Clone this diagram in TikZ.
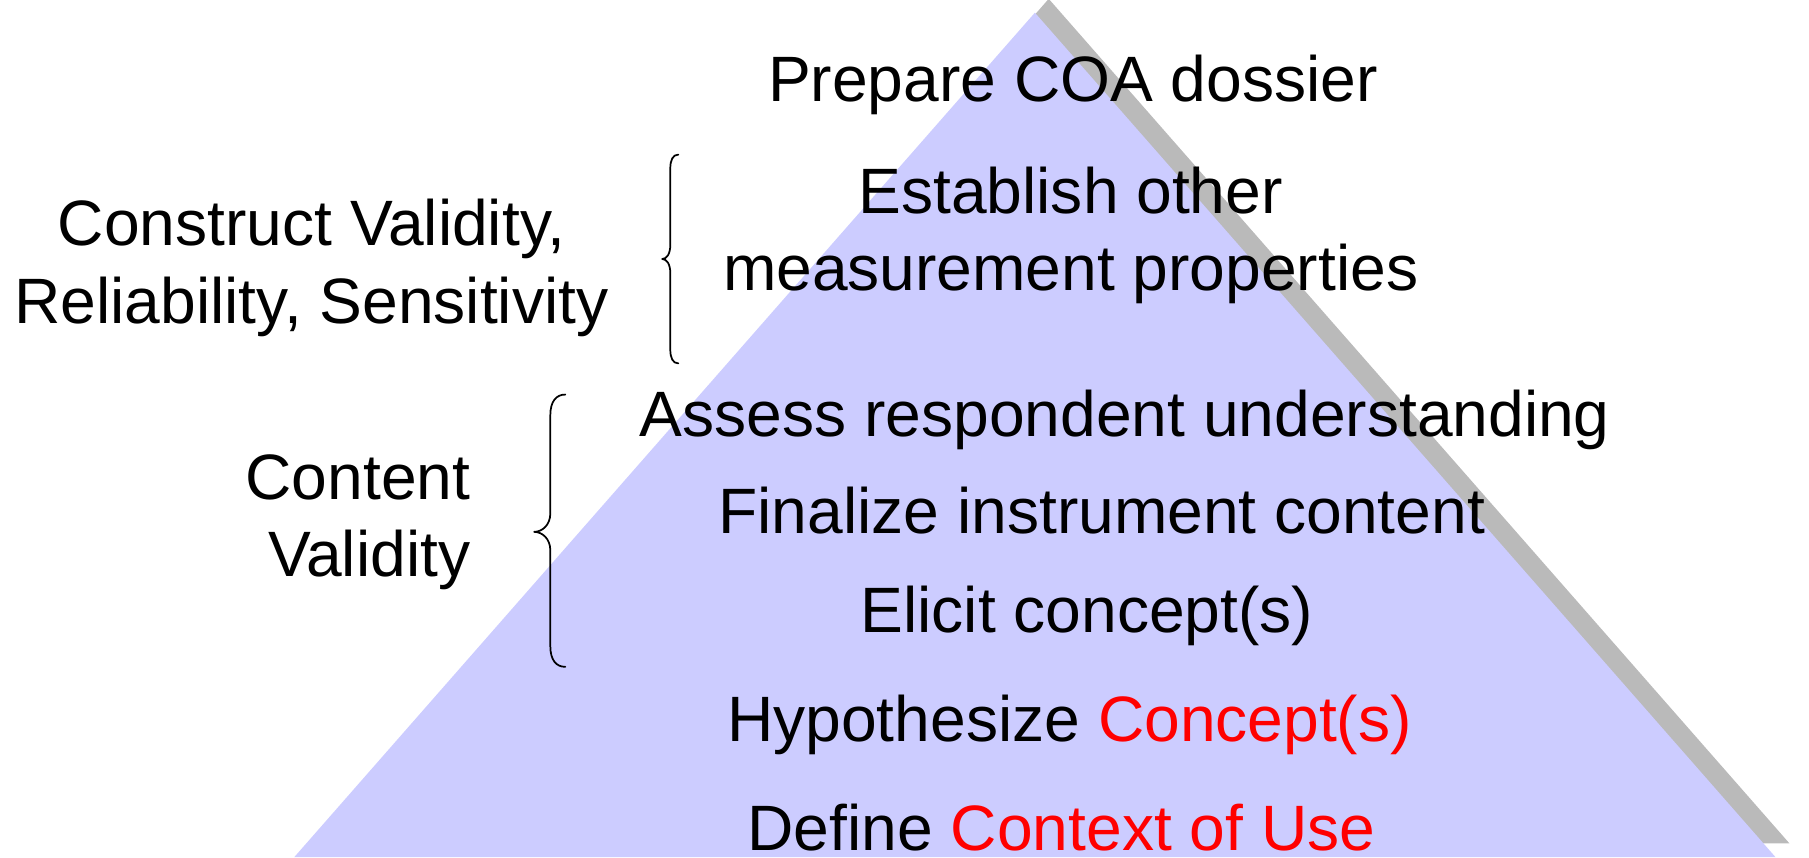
\documentclass[tikz,border=0pt]{standalone}
\usepackage{fontspec}
\setmainfont{Liberation Sans}
\definecolor{pyrblue}{RGB}{204,204,255}
\definecolor{shadowgray}{RGB}{186,186,186}
\definecolor{accentred}{RGB}{255,0,0}
\begin{document}
\begin{tikzpicture}[x=0.5pt,y=-0.5pt,
  lbl/.style={anchor=base, inner sep=0pt, font=\fontsize{27.8}{33}\selectfont, text=black},
  bracepath/.style={draw=black, line width=0.75pt, line cap=round, line join=round}]
\useasboundingbox (0,0) rectangle (1568,743);
% pyramid with shadow
\fill[shadowgray] (909,-1) -- (1551,731) -- (267,731) -- cycle;
\fill[pyrblue] (897,11) -- (1539,743) -- (255,743) -- cycle;
% texts inside pyramid
\node[lbl] (prep) at (930,88) {Prepare COA dossier};
\node[lbl] (est1) at (928,185) {Establish other};
\node[lbl] (est2) at (928,252) {measurement properties};
\node[lbl] (assess) at (975,378) {Assess respondent understanding};
\node[lbl] (final) at (955,462) {Finalize instrument content};
\node[lbl] (elicit) at (942,548) {Elicit concept(s)};
\node[lbl] (hyp) at (927,643) {Hypothesize \textcolor{accentred}{Concept(s)}};
\node[lbl] (def) at (920,737) {Define \textcolor{accentred}{Context of Use}};
% side labels
\node[lbl] (cv1) at (270,213) {Construct Validity,};
\node[lbl] (cv2) at (270,280) {Reliability, Sensitivity};
\node[lbl,anchor=base east] (cont1) at (408,433) {Content};
\node[lbl,anchor=base east] (cont2) at (408,500) {Validity};
% braces
\coordinate (b1top) at (588,134);
\coordinate (b1tip) at (574,224.5);
\coordinate (b1bot) at (588,315);
\draw[bracepath] (b1top) .. controls (583,134) and (581,139) .. (581,146)
  -- (581,212) .. controls (581,220) and (578,224.5) .. (b1tip)
  .. controls (578,224.5) and (581,229) .. (581,237)
  -- (581,303) .. controls (581,310) and (583,315) .. (b1bot);
\coordinate (b2top) at (490,342);
\coordinate (b2tip) at (463,461);
\coordinate (b2bot) at (490,578);
\draw[bracepath] (b2top) .. controls (482,342) and (477,348) .. (477,360)
  -- (477,445) .. controls (477,455) and (470,461) .. (b2tip)
  .. controls (470,461) and (477,467) .. (477,477)
  -- (477,560) .. controls (477,572) and (482,578) .. (b2bot);
\end{tikzpicture}
\end{document}
